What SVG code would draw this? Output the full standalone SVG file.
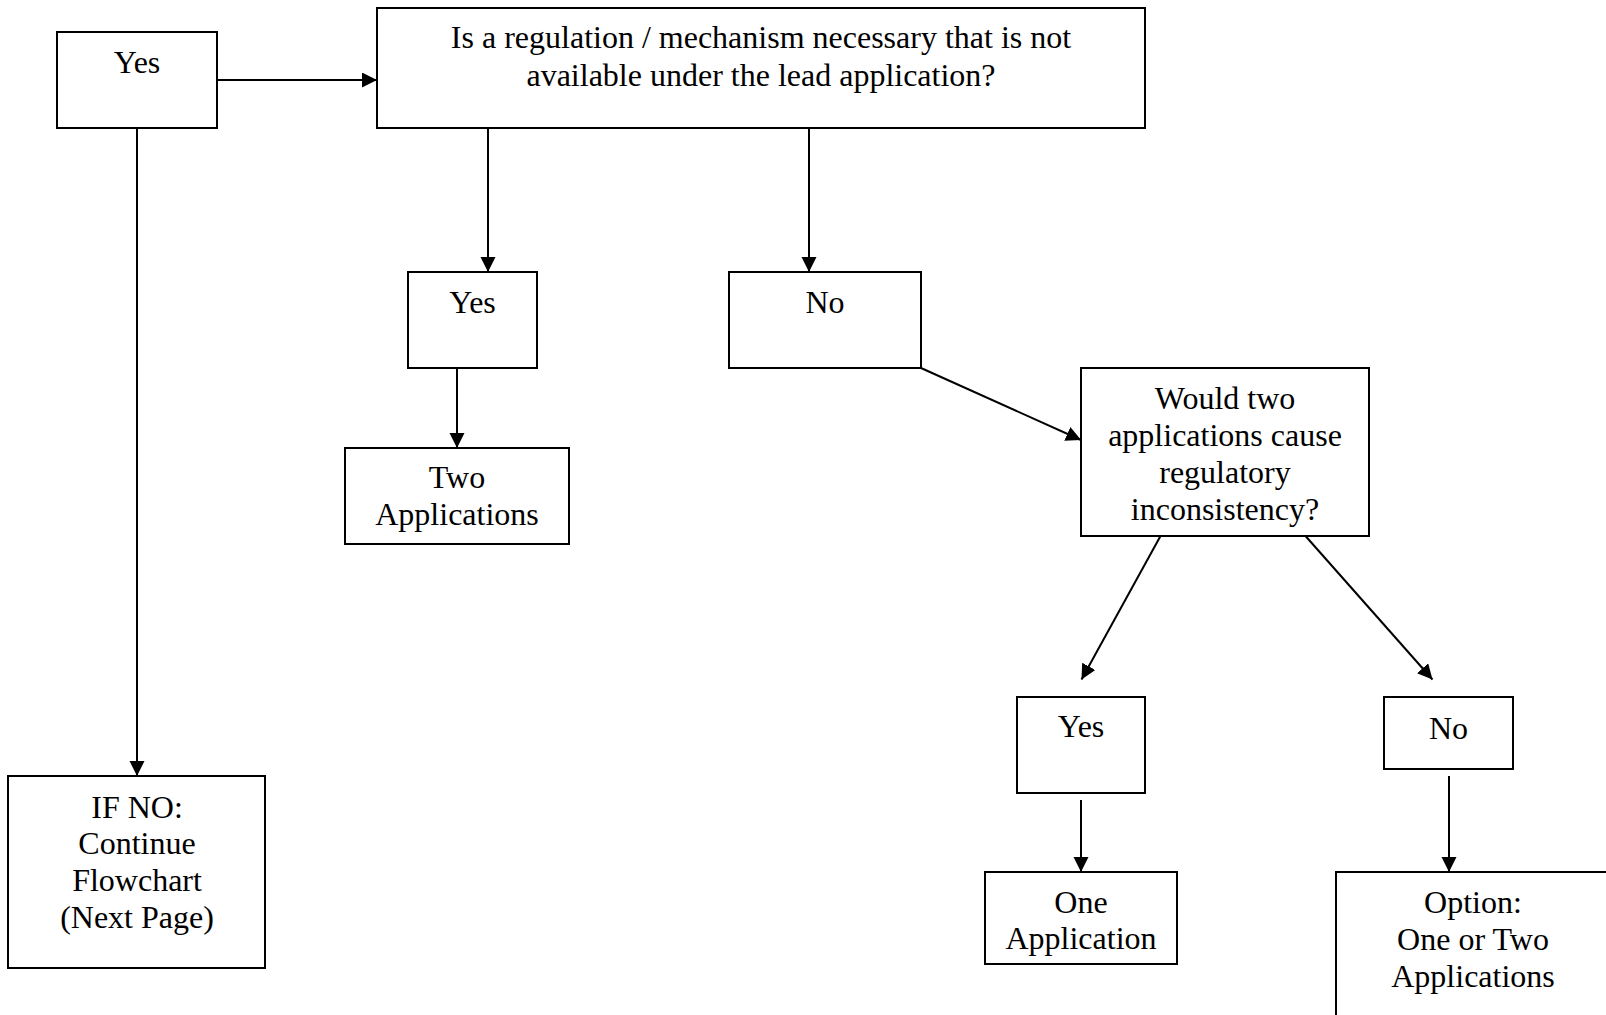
<svg xmlns="http://www.w3.org/2000/svg" width="1606" height="1015" viewBox="0 0 1606 1015">
<style>
.box{fill:#ffffff;stroke:#000000;stroke-width:2}
.t{font-family:"Liberation Serif","Times New Roman",serif;font-size:32px;fill:#000000;text-anchor:middle}
.c{stroke:#000000;stroke-width:2;fill:none;marker-end:url(#ah)}
</style>
<defs>
<marker id="ah" markerUnits="userSpaceOnUse" markerWidth="17" markerHeight="16" refX="15" refY="7.5" orient="auto">
<path d="M0,0 L15,7.5 L0,15 Z" fill="#000000"/>
</marker>
</defs>
<rect width="1606" height="1015" fill="#ffffff"/>
<g id="connectors">
<line class="c" x1="217" y1="80" x2="377" y2="80"/>
<line class="c" x1="137" y1="128" x2="137" y2="776"/>
<line class="c" x1="488" y1="128" x2="488" y2="272"/>
<line class="c" x1="809" y1="128" x2="809" y2="272"/>
<line class="c" x1="457" y1="368" x2="457" y2="448"/>
<line class="c" x1="921" y1="368" x2="1081" y2="440"/>
<line class="c" x1="1160.5" y1="536" x2="1081.5" y2="679.5"/>
<line class="c" x1="1305.5" y1="536" x2="1432.5" y2="679.5"/>
<line class="c" x1="1081" y1="800" x2="1081" y2="872"/>
<line class="c" x1="1449" y1="776" x2="1449" y2="872"/>
</g>
<g id="node-yes-top">
<rect class="box" x="57" y="32" width="160" height="96"/>
<text class="t" x="137" y="73">Yes</text>
</g>
<g id="node-regulation">
<rect class="box" x="377" y="8" width="768" height="120"/>
<text class="t" x="761" y="48">Is a regulation / mechanism necessary that is not</text>
<text class="t" x="761" y="86">available under the lead application?</text>
</g>
<g id="node-yes-mid">
<rect class="box" x="408" y="272" width="129" height="96"/>
<text class="t" x="472.5" y="313">Yes</text>
</g>
<g id="node-two-applications">
<rect class="box" x="345" y="448" width="224" height="96"/>
<text class="t" x="457" y="488">Two</text>
<text class="t" x="457" y="525">Applications</text>
</g>
<g id="node-no-mid">
<rect class="box" x="729" y="272" width="192" height="96"/>
<text class="t" x="825" y="313">No</text>
</g>
<g id="node-inconsistency">
<rect class="box" x="1081" y="368" width="288" height="168"/>
<text class="t" x="1225" y="409">Would two</text>
<text class="t" x="1225" y="446">applications cause</text>
<text class="t" x="1225" y="483">regulatory</text>
<text class="t" x="1225" y="520">inconsistency?</text>
</g>
<g id="node-yes-low">
<rect class="box" x="1017" y="697" width="128" height="96"/>
<text class="t" x="1081" y="737">Yes</text>
</g>
<g id="node-one-application">
<rect class="box" x="985" y="872" width="192" height="92"/>
<text class="t" x="1081" y="913">One</text>
<text class="t" x="1081" y="949">Application</text>
</g>
<g id="node-no-low">
<rect class="box" x="1384" y="697" width="129" height="72"/>
<text class="t" x="1448.5" y="739">No</text>
</g>
<g id="node-option">
<rect class="box" x="1336" y="872" width="274" height="180"/>
<text class="t" x="1473" y="913">Option:</text>
<text class="t" x="1473" y="950">One or Two</text>
<text class="t" x="1473" y="987">Applications</text>
</g>
<g id="node-if-no">
<rect class="box" x="8" y="776" width="257" height="192"/>
<text class="t" x="137" y="818">IF NO:</text>
<text class="t" x="137" y="854">Continue</text>
<text class="t" x="137" y="891">Flowchart</text>
<text class="t" x="137" y="928">(Next Page)</text>
</g>
</svg>
